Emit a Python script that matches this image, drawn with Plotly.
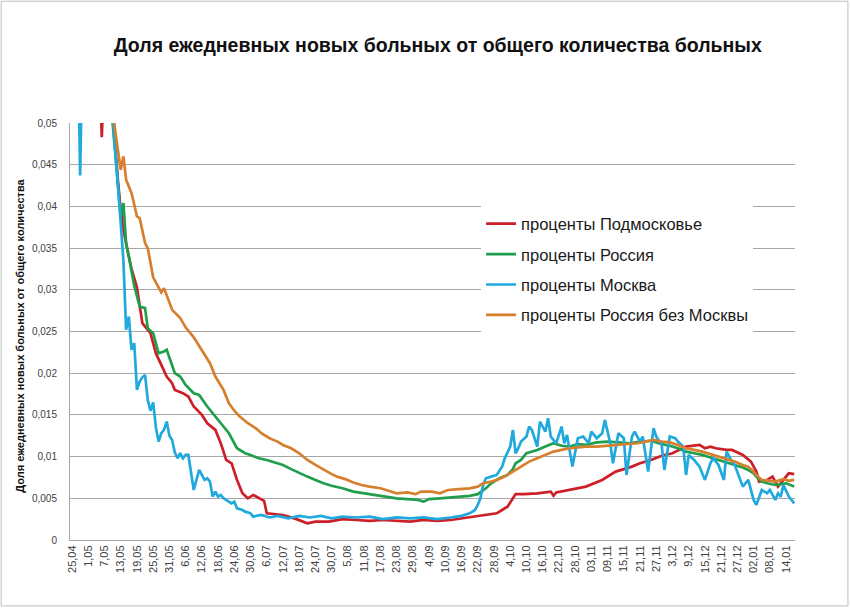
import datetime as dt
import plotly.graph_objects as go

title = "Доля ежедневных новых больных от общего количества больных"
y_title = "Доля ежедневных новых больных от общего количества"

tick_labels = ["25,04", "1,05", "7,05", "13,05", "19,05", "25,05", "31,05", "6,06", "12,06",
               "18,06", "24,06", "30,06", "6,07", "12,07", "18,07", "24,07", "30,07", "5,08",
               "11,08", "17,08", "23,08", "29,08", "4,09", "10,09", "16,09", "22,09", "28,09",
               "4,10", "10,10", "16,10", "22,10", "28,10", "03,11", "09,11", "15,11", "21,11",
               "27,11", "3,12", "9,12", "15,12", "21,12", "27,12", "02,01", "08,01", "14,01"]

# Москва
moscow_dates = ["25.04", "26.04", "27.04", "28.04", "29.04", "03.05", "09.05", "10.05", "11.05",
                "12.05", "13.05", "14.05", "15.05", "16.05", "17.05", "18.05", "19.05", "20.05",
                "21.05", "22.05", "23.05", "24.05", "25.05", "26.05", "27.05", "28.05", "29.05",
                "30.05", "31.05", "01.06", "02.06", "03.06", "04.06", "05.06", "06.06", "07.06",
                "08.06", "09.06", "10.06", "11.06", "12.06", "13.06", "14.06", "15.06", "16.06",
                "17.06", "18.06", "19.06", "20.06", "21.06", "22.06", "23.06", "24.06", "25.06",
                "27.06", "28.06", "30.06", "01.07", "04.07", "07.07", "10.07", "14.07", "18.07",
                "22.07", "26.07", "30.07", "03.08", "08.08", "13.08", "18.08", "23.08", "28.08",
                "02.09", "07.09", "12.09", "16.09", "19.09", "21.09", "22.09", "23.09", "24.09",
                "25.09", "27.09", "29.09", "01.10", "02.10", "04.10", "05.10", "06.10", "07.10",
                "08.10", "10.10", "11.10", "12.10", "14.10", "15.10", "17.10", "18.10", "19.10",
                "21.10", "23.10", "24.10", "25.10", "27.10", "29.10", "31.10", "02.11", "03.11",
                "05.11", "07.11", "08.11", "10.11", "11.11", "13.11", "15.11", "16.11", "18.11",
                "19.11", "21.11", "22.11", "24.11", "26.11", "27.11", "29.11", "30.11", "02.12",
                "04.12", "05.12", "07.12", "08.12", "09.12", "11.12", "13.12", "15.12", "17.12",
                "18.12", "20.12", "22.12", "23.12", "25.12", "26.12", "29.12", "31.12", "02.01",
                "03.01", "05.01", "07.01", "08.01", "10.01", "11.01", "12.01", "13.01", "15.01",
                "17.01"]
moscow = [0.075, 0.07, 0.064, 0.0437, 0.062, 0.06, 0.056, 0.051, 0.047,
          0.042, 0.038, 0.0335, 0.0252, 0.0268, 0.0228, 0.0236, 0.018, 0.019,
          0.0195, 0.0198, 0.0168, 0.0155, 0.0165, 0.0135, 0.0118, 0.0128, 0.0132,
          0.0142, 0.0125, 0.012, 0.0105, 0.0098, 0.0104, 0.0098, 0.0102, 0.0102,
          0.0078, 0.006, 0.0072, 0.0084, 0.0078, 0.0072, 0.0074, 0.007, 0.0052,
          0.0058, 0.0052, 0.0054, 0.005, 0.0048, 0.0046, 0.0044, 0.0046, 0.0038,
          0.0036, 0.0034, 0.0032, 0.0028, 0.003, 0.0027, 0.0029, 0.0026, 0.0029,
          0.0027, 0.0029, 0.0026, 0.0028, 0.0027, 0.0028, 0.0025, 0.0027, 0.0026,
          0.0027, 0.0025, 0.0027, 0.0029, 0.0032, 0.0036, 0.0042, 0.005, 0.0066,
          0.0074, 0.0076, 0.0078, 0.0088, 0.0098, 0.0112, 0.0132, 0.0104, 0.011,
          0.0118, 0.0124, 0.0136, 0.0132, 0.0112, 0.0142, 0.013, 0.0146, 0.0124,
          0.0116, 0.0136, 0.0116, 0.0126, 0.0088, 0.0122, 0.0124, 0.0116, 0.013,
          0.0122, 0.0128, 0.0144, 0.0116, 0.0092, 0.0128, 0.0122, 0.0078, 0.0124,
          0.013, 0.0118, 0.0124, 0.0082, 0.0134, 0.0124, 0.0114, 0.0084, 0.0124,
          0.0122, 0.0118, 0.0112, 0.0078, 0.0102, 0.0096, 0.0088, 0.0072, 0.0092,
          0.0098, 0.009, 0.0072, 0.0106, 0.0094, 0.009, 0.0064, 0.0072, 0.0048,
          0.0042, 0.006, 0.0056, 0.006, 0.0048, 0.0056, 0.0052, 0.0066, 0.0052,
          0.0044]

# Подмосковье
region_dates = ["25.04", "30.04", "05.05", "06.05", "07.05", "09.05", "10.05", "11.05", "12.05",
                "13.05", "14.05", "16.05", "17.05", "19.05", "21.05", "24.05", "26.05", "28.05",
                "30.05", "01.06", "02.06", "05.06", "07.06", "09.06", "12.06", "14.06", "17.06",
                "19.06", "21.06", "23.06", "25.06", "27.06", "29.06", "01.07", "03.07", "04.07",
                "05.07", "06.07", "09.07", "12.07", "14.07", "17.07", "21.07", "24.07", "29.07",
                "03.08", "08.08", "13.08", "18.08", "23.08", "28.08", "02.09", "07.09", "12.09",
                "16.09", "20.09", "25.09", "29.09", "01.10", "03.10", "05.10", "06.10", "09.10",
                "14.10", "19.10", "20.10", "21.10", "26.10", "01.11", "07.11", "12.11", "15.11",
                "18.11", "21.11", "25.11", "29.11", "03.12", "08.12", "13.12", "15.12", "17.12",
                "19.12", "23.12", "25.12", "29.12", "01.01", "03.01", "04.01", "07.01", "09.01",
                "11.01", "13.01", "15.01", "17.01"]
region = [0.07, 0.066, 0.058, 0.0483, 0.057, 0.055, 0.0515, 0.047, 0.043,
          0.0396, 0.0372, 0.034, 0.0325, 0.0303, 0.026, 0.0248, 0.0224, 0.021,
          0.0196, 0.0188, 0.018, 0.0176, 0.0172, 0.016, 0.015, 0.014, 0.0132,
          0.0116, 0.0096, 0.0092, 0.0072, 0.0056, 0.005, 0.0054, 0.005, 0.0048,
          0.0047, 0.0032, 0.0031, 0.003, 0.0028, 0.0025, 0.002, 0.0022, 0.0022,
          0.0025, 0.0024, 0.0023, 0.0024, 0.0023, 0.0022, 0.0024, 0.0023, 0.0024,
          0.0026, 0.0028, 0.003, 0.0032, 0.0036, 0.004, 0.005, 0.0055, 0.0055,
          0.0056, 0.0058, 0.0053, 0.0057, 0.006, 0.0064, 0.0072, 0.0082, 0.0085,
          0.0088, 0.0092, 0.0096, 0.0101, 0.0104, 0.0112, 0.0114, 0.011, 0.0112,
          0.011, 0.0108, 0.0108, 0.0102, 0.0094, 0.0082, 0.007, 0.0072, 0.0076,
          0.0064, 0.0072, 0.008, 0.0079]

# Россия
russia_dates = ["25.04", "05.05", "09.05", "10.05", "11.05", "12.05", "13.05", "14.05", "15.05",
                "16.05", "17.05", "18.05", "20.05", "22.05", "23.05", "25.05", "27.05", "29.05",
                "30.05", "02.06", "04.06", "06.06", "09.06", "11.06", "14.06", "17.06", "20.06",
                "22.06", "25.06", "28.06", "30.06", "03.07", "06.07", "09.07", "12.07", "15.07",
                "18.07", "21.07", "24.07", "27.07", "30.07", "03.08", "07.08", "11.08", "16.08",
                "20.08", "23.08", "27.08", "31.08", "02.09", "04.09", "08.09", "12.09", "15.09",
                "19.09", "22.09", "25.09", "27.09", "30.09", "03.10", "05.10", "06.10", "08.10",
                "10.10", "14.10", "17.10", "20.10", "23.10", "26.10", "29.10", "01.11", "05.11",
                "09.11", "13.11", "17.11", "21.11", "25.11", "29.11", "02.12", "05.12", "08.12",
                "11.12", "14.12", "17.12", "20.12", "23.12", "26.12", "29.12", "31.12", "02.01",
                "03.01", "05.01", "07.01", "10.01", "12.01", "14.01", "17.01"]
russia = [0.075, 0.06, 0.054, 0.05, 0.046, 0.042, 0.0388, 0.0404, 0.0355,
          0.034, 0.032, 0.0305, 0.028, 0.0278, 0.0254, 0.0248, 0.0224, 0.0226,
          0.0228, 0.02, 0.0196, 0.0186, 0.0176, 0.0174, 0.016, 0.0148, 0.0136,
          0.0128, 0.011, 0.0104, 0.0102, 0.0098, 0.0096, 0.0093, 0.009, 0.0085,
          0.008, 0.0076, 0.0072, 0.0068, 0.0065, 0.0062, 0.0058, 0.0056, 0.0054,
          0.0052, 0.005, 0.0049, 0.0048, 0.0046, 0.0049, 0.005, 0.0051, 0.0052,
          0.0053, 0.0055, 0.0062, 0.0068, 0.0074, 0.0078, 0.0085, 0.0092, 0.0096,
          0.0104, 0.0108, 0.0112, 0.0116, 0.0113, 0.0112, 0.0115, 0.0114, 0.0117,
          0.0118, 0.0117, 0.0116, 0.0118, 0.0119, 0.0115, 0.0113, 0.011, 0.0106,
          0.0104, 0.0102, 0.0099, 0.0096, 0.0093, 0.009, 0.0087, 0.0084, 0.008,
          0.0076, 0.007, 0.0068, 0.0066, 0.0067, 0.0068, 0.0064]

# Россия без Москвы
rest_dates = ["25.04", "05.05", "09.05", "10.05", "11.05", "12.05", "13.05", "14.05", "15.05",
              "16.05", "17.05", "19.05", "20.05", "22.05", "23.05", "25.05", "28.05", "29.05",
              "01.06", "04.06", "06.06", "09.06", "12.06", "15.06", "17.06", "20.06", "22.06",
              "24.06", "26.06", "29.06", "02.07", "04.07", "07.07", "10.07", "12.07", "15.07",
              "18.07", "21.07", "24.07", "27.07", "30.07", "01.08", "04.08", "07.08", "10.08",
              "13.08", "17.08", "20.08", "23.08", "27.08", "30.08", "01.09", "05.09", "08.09",
              "11.09", "15.09", "19.09", "22.09", "24.09", "27.09", "29.09", "02.10", "05.10",
              "08.10", "11.10", "14.10", "17.10", "20.10", "23.10", "26.10", "29.10", "01.11",
              "05.11", "09.11", "13.11", "17.11", "20.11", "23.11", "26.11", "29.11", "02.12",
              "05.12", "08.12", "11.12", "14.12", "17.12", "20.12", "23.12", "26.12", "29.12",
              "31.12", "02.01", "03.01", "05.01", "08.01", "10.01", "13.01", "15.01", "17.01"]
rest = [0.08, 0.065, 0.056, 0.0515, 0.049, 0.0468, 0.0444, 0.046, 0.0432,
        0.0424, 0.0416, 0.0388, 0.0386, 0.0356, 0.035, 0.0315, 0.0297, 0.0302,
        0.0276, 0.0266, 0.0255, 0.0243, 0.0228, 0.0212, 0.0196, 0.018, 0.0164,
        0.0155, 0.0148, 0.014, 0.0134, 0.0128, 0.0122, 0.0118, 0.0114, 0.011,
        0.0104, 0.0096, 0.009, 0.0084, 0.0079, 0.0076, 0.0073, 0.0069, 0.0066,
        0.0064, 0.0062, 0.0059, 0.0056, 0.0057, 0.0055, 0.0058, 0.0058, 0.0056,
        0.006, 0.0061, 0.0062, 0.0064, 0.0068, 0.007, 0.0072, 0.0076, 0.0082,
        0.0088, 0.0094, 0.0098, 0.0102, 0.0106, 0.0108, 0.011, 0.0111, 0.0112,
        0.0112, 0.0113, 0.0114, 0.0115, 0.0116, 0.0118, 0.012, 0.0118, 0.0117,
        0.0114, 0.011, 0.0108, 0.0106, 0.0103, 0.01, 0.0097, 0.0094, 0.009,
        0.0088, 0.0082, 0.0078, 0.0072, 0.0071, 0.007, 0.0073, 0.0071, 0.0072]


def to_date(s):
    d, m = s.replace(",", ".").split(".")
    m = int(m)
    return dt.date(2021 if m < 4 else 2020, m, int(d))


series = [
    ("проценты Подмосковье", region_dates, region, "#CD1F27"),
    ("проценты Россия", russia_dates, russia, "#1F9E4B"),
    ("проценты Москва", moscow_dates, moscow, "#1FA9DD"),
    ("проценты Россия без Москвы", rest_dates, rest, "#D67F2E"),
]

fig = go.Figure()
for name, dates, vals, color in series:
    fig.add_trace(go.Scatter(
        x=[to_date(s) for s in dates],
        y=vals,
        mode="lines",
        name=name,
        legendgroup=name,
        line=dict(color=color, width=2.7),
    ))

start = dt.datetime(2020, 4, 25)
x_range = [start - dt.timedelta(hours=18), start + dt.timedelta(days=267, hours=7)]

fig.update_xaxes(
    type="date",
    range=x_range,
    tickvals=[to_date(t) for t in tick_labels],
    ticktext=tick_labels,
    tickangle=-90,
    tickfont=dict(family="Liberation Sans", size=11, color="#404040"),
    showgrid=False,
    showline=True,
    linecolor="#A6A6A6",
    linewidth=1,
    ticks="",
)
fig.update_yaxes(
    range=[0, 0.05],
    dtick=0.005,
    tickfont=dict(family="Liberation Sans", size=10, color="#404040"),
    gridcolor="#A6A6A6",
    gridwidth=1,
    showline=True,
    linecolor="#A6A6A6",
    zeroline=False,
    ticklabelstandoff=10,
)

fig.update_layout(
    width=850,
    height=608,
    margin=dict(l=70, r=55, t=123, b=68),
    paper_bgcolor="white",
    plot_bgcolor="white",
    separators=", ",
    title=dict(
        text="<b>" + title + "</b>",
        x=0.515, xanchor="center", xref="container",
        y=1 - 45 / 608, yanchor="middle", yref="container",
        font=dict(family="Liberation Sans", size=19.5, color="#111111"),
    ),
    legend=dict(
        x=0.567, y=0.80, xanchor="left", yanchor="top",
        bgcolor="white",
        traceorder="grouped",
        tracegroupgap=6,
        font=dict(family="Liberation Sans", size=16.5, color="#1a1a1a"),
    ),
    annotations=[dict(
        text="<b>" + y_title + "</b>",
        xref="paper", yref="paper", x=-0.08, y=0.49,
        textangle=-90, showarrow=False,
        font=dict(family="Liberation Sans", size=11, color="#111111"),
    )],
    shapes=[dict(
        type="rect", xref="paper", yref="paper",
        x0=-0.095, x1=1.073, y0=-0.158, y1=1.292,
        line=dict(color="#BFBFBF", width=1),
    )],
)

# page body margin would shift the 850x608 figure inside the window
fig.write_html("out.html", config={"displayModeBar": False},
               post_script="document.body.style.margin='0';")
